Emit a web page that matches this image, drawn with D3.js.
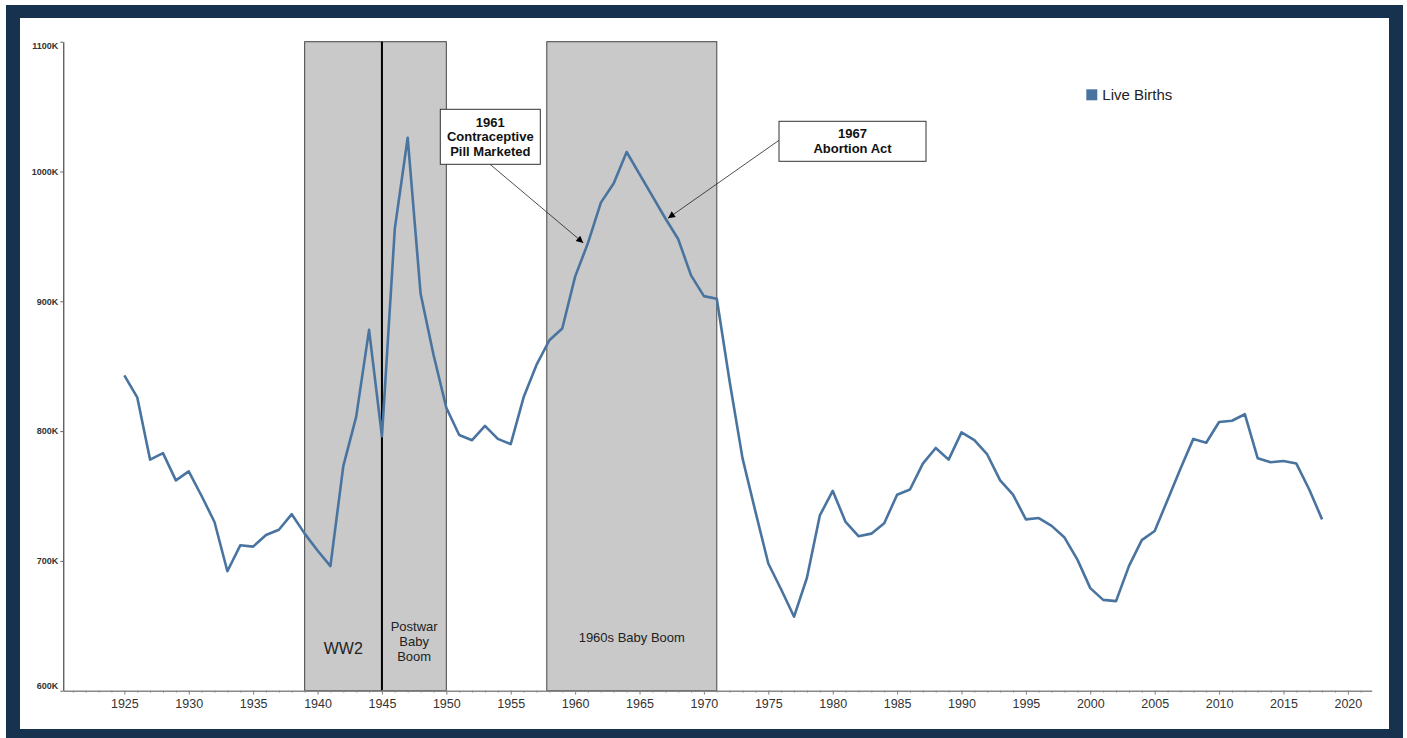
<!DOCTYPE html>
<html lang="en">

<head>
    <meta charset="UTF-8">
    <title>Live Births</title>
    <script src="https://cdn.jsdelivr.net/npm/d3@7"></script>
    <style>
        * {
            margin: 0;
            padding: 0;
        }

        body {
            background: #fff;
        }

        svg text {
            font-family: "Liberation Sans", Arial, sans-serif;
        }
    </style>
</head>

<body>
    <div id="chart"></div>
    <script>
        // years on the x axis
        const years = d3.range(1925, 2019);

        // live births, thousands, 1925 - 2018
        const births = [
            843, 826, 778, 783, 762, 769, 750, 730, 692, 712,
            711, 720, 724, 736, 721, 708, 696, 773, 811, 878,
            796, 956, 1026, 906, 859, 818, 797, 793, 804, 794,
            790, 826, 851, 870, 879, 919, 945, 976, 991, 1015,
            998, 981, 964, 948, 920, 904, 902, 838, 779, 738,
            698, 678, 657, 687, 735, 754, 730, 719, 721, 729,
            751, 755, 775, 787, 778, 799, 793, 782, 762, 751,
            732, 733, 727, 718, 701, 679, 670, 669, 696, 716,
            723, 747, 771, 794, 791, 807, 808, 813, 779, 776,
            777, 775, 755, 732
        ];

        // shaded periods
        const periodStart = [1939, 1945, 1957.8];
        const periodEnd = [1945, 1950, 1971];
        const periodLabel = [['WW2'], ['Postwar', 'Baby', 'Boom'], ['1960s Baby Boom']];

        // annotations: year pointed at, and box text
        const noteYear = [1961, 1967];
        const noteText = [['1961', 'Contraceptive', 'Pill Marketed'], ['1967', 'Abortion Act']];

        const yTicks = [600, 700, 800, 900, 1000, 1100];
        const xTicks = d3.range(1925, 2021, 5);
        const seriesName = 'Live Births';

        const svgWidth = 1407;
        const svgHeight = 738;

        // plot area
        const plot = { left: 63.3, right: 1371.7, top: 41.7, bottom: 690.7 };

        const lineColor = '#4a74a0';
        const navy = '#17324f';

        const svg = d3.select('#chart')
            .append('svg')
            .attr('width', svgWidth)
            .attr('height', svgHeight);

        // navy frame
        svg.append('rect')
            .attr('x', 6).attr('y', 5)
            .attr('width', 1397).attr('height', 740)
            .attr('fill', navy);
        svg.append('rect')
            .attr('x', 20).attr('y', 18)
            .attr('width', 1369).attr('height', 711)
            .attr('fill', '#fff');

        const x = d3.scaleLinear()
            .domain([1920.26, 2021.85])
            .range([plot.left, plot.right]);

        const y = d3.scaleLinear()
            .domain([600, 1100])
            .range([plot.bottom, plot.top]);

        // shaded periods
        const periods = svg.append('g');
        periodStart.forEach((s, i) => {
            periods.append('rect')
                .attr('x', x(s))
                .attr('y', y(1100))
                .attr('width', x(periodEnd[i]) - x(s))
                .attr('height', y(600) - y(1100))
                .attr('fill', '#c9c9c9')
                .attr('stroke', '#444')
                .attr('stroke-width', 1);
        });

        // war end line
        periods.append('line')
            .attr('x1', x(1945)).attr('x2', x(1945))
            .attr('y1', y(1100)).attr('y2', y(600))
            .attr('stroke', '#000')
            .attr('stroke-width', 2);

        // period labels
        const labelSize = [16, 13, 13];
        const labelY = [648, 641.5, 637];
        periodLabel.forEach((lines, i) => {
            const cx = (x(periodStart[i]) + x(periodEnd[i])) / 2;
            const lh = 14.7;
            const t = svg.append('text')
                .attr('text-anchor', 'middle')
                .attr('font-size', labelSize[i] + 'px')
                .attr('fill', '#222');
            lines.forEach((l, j) => {
                t.append('tspan')
                    .attr('x', cx)
                    .attr('y', labelY[i] + (j - (lines.length - 1) / 2) * lh)
                    .attr('dy', '0.35em')
                    .text(l);
            });
        });

        // y axis
        const yAxisG = svg.append('g')
            .attr('transform', `translate(${plot.left},0)`)
            .call(d3.axisLeft(y).tickValues(yTicks).tickSize(3).tickSizeOuter(0).tickFormat(d => d + 'K'));

        yAxisG.select('.domain').attr('stroke', '#222');
        yAxisG.selectAll('line').attr('stroke', '#666');
        yAxisG.selectAll('text')
            .attr('font-size', '9px')
            .attr('font-weight', 'bold')
            .attr('fill', '#333')
            .attr('x', -5)
            .attr('dy', d => d === 600 ? '-0.3em' : d === 1100 ? '0.75em' : '0.32em');

        // x axis, minor ticks every year
        const xMinor = svg.append('g')
            .attr('transform', `translate(0,${plot.bottom})`)
            .call(d3.axisBottom(x).tickValues(d3.range(1921, 2022)).tickSize(2).tickFormat(''));
        xMinor.select('.domain').remove();
        xMinor.selectAll('line').attr('stroke', '#999');

        const xAxisG = svg.append('g')
            .attr('transform', `translate(0,${plot.bottom})`)
            .call(d3.axisBottom(x).tickValues(xTicks).tickSize(4).tickSizeOuter(0).tickFormat(d3.format('d')));

        xAxisG.select('.domain').attr('stroke', '#888').attr('stroke-width', 1.5);
        xAxisG.selectAll('line').attr('stroke', '#888');
        xAxisG.selectAll('text')
            .attr('font-size', '12.5px')
            .attr('fill', '#333')
            .attr('y', 8);

        // births line
        const line = d3.line()
            .x((d, i) => x(years[i]))
            .y(d => y(d));

        svg.append('path')
            .datum(births)
            .attr('d', line)
            .attr('fill', 'none')
            .attr('stroke', lineColor)
            .attr('stroke-width', 2.6)
            .attr('stroke-linejoin', 'round');

        // arrow marker
        svg.append('defs').append('marker')
            .attr('id', 'arrow')
            .attr('viewBox', '0 0 10 10')
            .attr('refX', 10).attr('refY', 5)
            .attr('markerWidth', 8).attr('markerHeight', 7)
            .attr('markerUnits', 'userSpaceOnUse')
            .attr('orient', 'auto')
            .append('path')
            .attr('d', 'M0 0L10 5L0 10Z')
            .attr('fill', '#000');

        // annotation boxes
        const boxes = [
            { x: 440.3, y: 109.3, w: 100, h: 55, fromX: 490, fromY: 164.3 },
            { x: 779, y: 121.3, w: 147, h: 40, fromX: 779, fromY: 140.3 }
        ];
        const tipOffset = [[-4.7, 0], [2.7, 0]];

        noteYear.forEach((yr, i) => {
            const b = boxes[i];
            const v = births[years.indexOf(yr)];
            svg.append('line')
                .attr('x1', b.fromX).attr('y1', b.fromY)
                .attr('x2', x(yr) + tipOffset[i][0]).attr('y2', y(v) + tipOffset[i][1])
                .attr('stroke', '#222')
                .attr('stroke-width', 0.8)
                .attr('marker-end', 'url(#arrow)');

            svg.append('rect')
                .attr('x', b.x).attr('y', b.y)
                .attr('width', b.w).attr('height', b.h)
                .attr('fill', '#fff')
                .attr('stroke', '#333')
                .attr('stroke-width', 1);

            const lines = noteText[i];
            const t = svg.append('text')
                .attr('text-anchor', 'middle')
                .attr('font-size', '13px')
                .attr('font-weight', 'bold')
                .attr('fill', '#111');
            lines.forEach((l, j) => {
                t.append('tspan')
                    .attr('x', b.x + b.w / 2)
                    .attr('y', b.y + b.h / 2 + (j - (lines.length - 1) / 2) * 14.8)
                    .attr('dy', '0.35em')
                    .text(l);
            });
        });

        // legend
        const legend = svg.append('g').attr('transform', 'translate(1086.3,89.3)');
        legend.append('rect')
            .attr('width', 11).attr('height', 11)
            .attr('fill', lineColor);
        legend.append('text')
            .attr('x', 16).attr('y', 5.5)
            .attr('dy', '0.35em')
            .attr('font-size', '15px')
            .attr('fill', '#222')
            .text(seriesName);
    </script>
</body>

</html>
